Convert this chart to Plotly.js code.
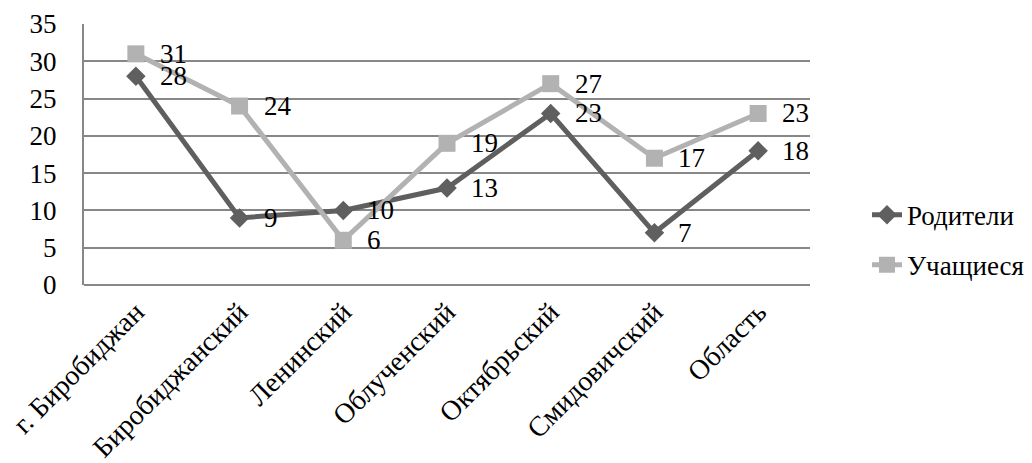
<!DOCTYPE html>
<html>
<head>
<meta charset="utf-8">
<script src="https://cdn.plot.ly/plotly-3.0.1.min.js"></script>
</head>
<body style="margin:0">
<div id="chart"></div>
<script>
var categories = ["г. Биробиджан", "Биробиджанский", "Ленинский", "Облученский", "Октябрьский", "Смидовичский", "Область"];
var parents = [28, 9, 10, 13, 23, 7, 18];
var students = [31, 24, 6, 19, 27, 17, 23];
var seriesNames = ["Родители", "Учащиеся"];

var serifFamily = "Liberation Serif";
var colors = ["#5f5f5f", "#b2b2b2"];

var traces = [
  {
    x: categories, y: parents, name: seriesNames[0], type: "scatter", mode: "lines+markers",
    legendgroup: "g1",
    line: {color: colors[0], width: 5},
    marker: {symbol: "diamond", size: 15, color: colors[0]},
    cliponaxis: false
  },
  {
    x: categories, y: students, name: seriesNames[1], type: "scatter", mode: "lines+markers",
    legendgroup: "g2",
    line: {color: colors[1], width: 5},
    marker: {symbol: "square", size: 17, color: colors[1]},
    cliponaxis: false
  }
];

var annotations = [];
[parents, students].forEach(function (vals) {
  vals.forEach(function (v, i) {
    annotations.push({
      x: categories[i], y: v, xref: "x", yref: "y", text: String(v),
      showarrow: false, xanchor: "left", yanchor: "middle", xshift: 22,
      font: {family: serifFamily, size: 27, color: "#000"}
    });
  });
});

var layout = {
  width: 1032, height: 463,
  margin: {l: 84, r: 222, t: 24, b: 178, autoexpand: false},
  paper_bgcolor: "#fff", plot_bgcolor: "#fff",
  font: {family: serifFamily, size: 27, color: "#000"},
  showlegend: true,
  annotations: annotations,
  legend: {x: 1.0785, xanchor: "left", y: 0.172, yanchor: "middle",
           font: {family: serifFamily, size: 27, color: "#000"},
           traceorder: "grouped", tracegroupgap: 12,
           bgcolor: "rgba(0,0,0,0)"},
  xaxis: {
    type: "category", range: [-0.5, 6.5], tickangle: -45, showgrid: false, zeroline: false,
    showline: false, ticks: "", tickfont: {family: serifFamily, size: 28, color: "#000"},
    ticklabelstandoff: 4
  },
  yaxis: {
    range: [0, 35], dtick: 5, showgrid: true, gridcolor: "#878787", gridwidth: 2,
    zeroline: true, zerolinecolor: "#878787", zerolinewidth: 2,
    showline: true, linecolor: "#878787", linewidth: 2, ticks: "",
    tickfont: {family: serifFamily, size: 27, color: "#000"}, ticklabelstandoff: 20
  }
};

Plotly.newPlot("chart", traces, layout, {displayModeBar: false});
</script>
</body>
</html>
